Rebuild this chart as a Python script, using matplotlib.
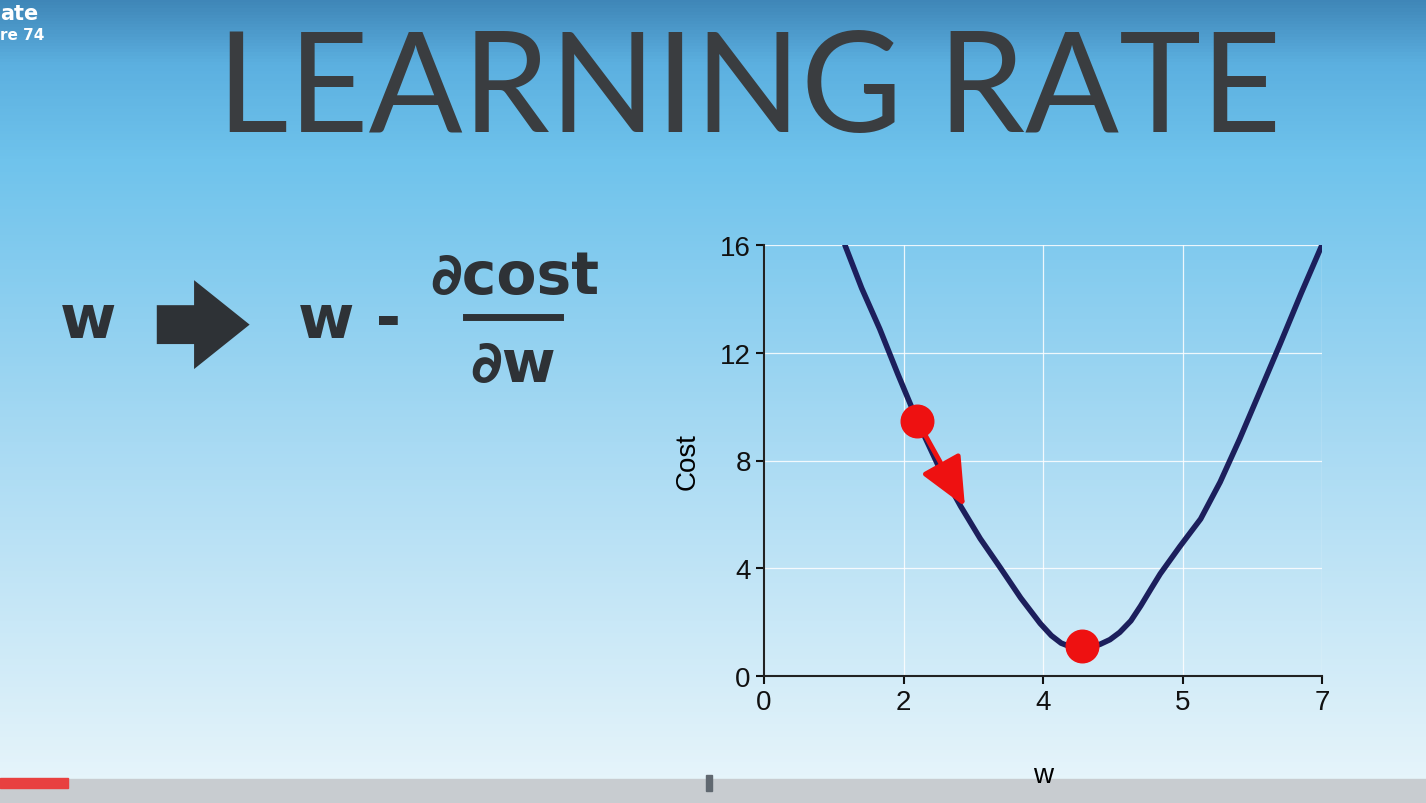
import numpy as np
import matplotlib
matplotlib.use("Agg")
import matplotlib.pyplot as plt
from matplotlib.colors import LinearSegmentedColormap

# curve (x in tick-index units, y = cost)
curve_x = [0.58, 0.70, 0.83, 0.96, 1.10, 1.25, 1.41, 1.55, 1.69, 1.84, 1.98, 2.06, 2.13, 2.20, 2.27,
           2.34, 2.41, 2.48, 2.55, 2.63, 2.70, 2.77, 2.84, 2.98, 3.13, 3.27, 3.41, 3.55, 3.70, 3.85, 4.0]
curve_y = [16.0, 14.4, 12.88, 11.2, 9.46, 7.8, 6.30, 5.1, 4.05, 2.9, 1.95, 1.5, 1.22, 1.08, 1.03,
           1.06, 1.18, 1.35, 1.62, 2.05, 2.6, 3.2, 3.79, 4.8, 5.83, 7.2, 8.80, 10.5, 12.33, 14.2, 16.0]
dots_x = [1.10, 2.28]
dots_y = [9.46, 1.1]
arrow_end = (1.45, 6.2)
xtick_pos = [0, 1, 2, 3, 4]
xtick_labels = ["0", "2", "4", "5", "7"]
ytick_pos = [0, 4, 8, 12, 16]

fig = plt.figure(figsize=(14.26, 8.04), dpi=100)

# background gradient
bg = fig.add_axes([0, 0, 1, 1])
cmap = LinearSegmentedColormap.from_list("bg", [(0, "#3f86b8"), (0.08, "#5cb0e0"), (0.2, "#6fc3ec"),
                                                 (0.55, "#a8daf3"), (1, "#eaf6fb")])
bg.imshow(np.linspace(0, 1, 256).reshape(-1, 1), aspect="auto", cmap=cmap, extent=[0, 1, 0, 1])
bg.set_xlim(0, 1)
bg.set_ylim(0, 1)
bg.axis("off")

# bottom bar
bg.add_patch(plt.Rectangle((0, 0), 1, 0.03, color="#c8ccd0", zorder=2))
bg.add_patch(plt.Rectangle((0, 0.0187), 0.048, 0.012, color="#e84040", zorder=3))
bg.add_patch(plt.Rectangle((0.495, 0.015), 0.004, 0.02, color="#606870", zorder=3))

bg.text(0.0, 0.995, "ate", color="white", fontsize=15, fontweight="bold", va="top", ha="left")
bg.text(0.0, 0.965, "re 74", color="white", fontsize=11, fontweight="bold", va="top", ha="left")

bg.text(0.525, 0.885, "LEARNING RATE", fontsize=100, color="#3a3d40", ha="center", va="center",
        fontfamily="Lato", fontweight="normal")

# formula
fc = "#2e3236"
bg.text(0.062, 0.6, "w", fontsize=44, fontweight="bold", color=fc, ha="center", va="center")
bg.annotate("", xy=(0.177, 0.595), xytext=(0.108, 0.595),
            arrowprops=dict(arrowstyle="simple,head_width=1.6,head_length=1.0,tail_width=0.7",
                            color=fc, lw=0, mutation_scale=40))
bg.text(0.245, 0.6, "w -", fontsize=44, fontweight="bold", color=fc, ha="center", va="center")
bg.text(0.361, 0.655, "\u2202cost", fontsize=42, fontweight="bold", color=fc, ha="center", va="center")
bg.plot([0.327, 0.393], [0.604, 0.604], color=fc, lw=5)
bg.text(0.36, 0.545, "\u2202w", fontsize=42, fontweight="bold", color=fc, ha="center", va="center")

# chart
ax = fig.add_axes([764 / 1426, 1 - 677 / 804, (1322 - 764) / 1426, (677 - 246) / 804])
ax.patch.set_alpha(0)
ax.plot(curve_x, curve_y, color="#1c1f5c", lw=4, solid_capstyle="round", solid_joinstyle="round", zorder=3)
ax.annotate("", xy=arrow_end, xytext=(dots_x[0], dots_y[0]),
            arrowprops=dict(arrowstyle="-|>,head_width=0.45,head_length=1.0", color="#ee1111", lw=3.5,
                            mutation_scale=30), zorder=4)
ax.scatter(dots_x, dots_y, s=550, color="#ee1111", zorder=5)
ax.set_xlim(0, 4)
ax.set_ylim(0, 16)
ax.set_xticks(xtick_pos, xtick_labels)
ax.set_yticks(ytick_pos)
ax.grid(color="white", lw=0.9, alpha=0.85)
ax.set_axisbelow(True)
for s in ["top", "right"]:
    ax.spines[s].set_visible(False)
for s in ["left", "bottom"]:
    ax.spines[s].set_color("#222")
    ax.spines[s].set_linewidth(1.5)
ax.tick_params(labelsize=20, colors="#111", length=6, width=1.5)
for lab in ax.get_xticklabels() + ax.get_yticklabels():
    lab.set_fontfamily("Liberation Sans")
ax.set_ylabel("Cost", fontsize=20, labelpad=14, fontfamily="Liberation Sans")
ax.set_xlabel("w", fontsize=20, labelpad=34, fontfamily="Liberation Sans")

fig.savefig("out.png", dpi=100)
